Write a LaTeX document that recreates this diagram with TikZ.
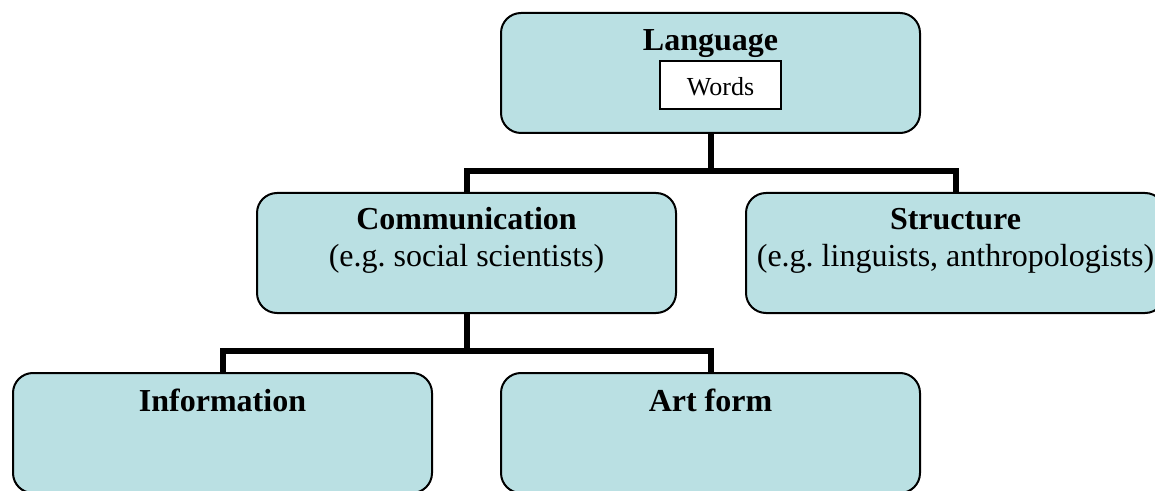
\documentclass[tikz,border=0pt]{standalone}
\usepackage{fontspec}
\setmainfont{Liberation Serif}
\usetikzlibrary{calc}
\frenchspacing
\definecolor{boxfill}{HTML}{BAE0E3}
\tikzset{
  topic/.style={draw, line width=1.5pt, fill=boxfill, rounded corners=15pt,
    minimum width=314.25pt, minimum height=90pt, inner sep=0pt},
  headline/.style={font=\fontsize{24}{28}\selectfont\bfseries, anchor=base, inner sep=0pt},
  subline/.style={font=\fontsize{24}{28}\selectfont, anchor=base, inner sep=0pt},
  wordbox/.style={draw, line width=1.3pt, fill=white, minimum width=90.75pt, minimum height=36pt,
    inner sep=0pt, text height=16.5pt, text depth=0pt, font=\fontsize{19.5}{22}\selectfont},
  branch/.style={line width=4.5pt},
}

\begin{document}
\begin{tikzpicture}[x=0.75pt, y=-0.75pt]
    \useasboundingbox (0,0) rectangle (1155,491);
    \clip (0,0) rectangle (1155,491);
    % boxes
    \node[topic] (lang) at (710.5,73) {};
    \node[topic] (comm) at (466.5,253) {};
    \node[topic] (struct) at (955.5,253) {};
    \node[topic] (info) at (222.5,433) {};
    \node[topic] (art) at (710.5,433) {};
    % texts
    \node[headline] (langT) at ($(lang.north)+(0,39)$) {Language};
    \node[wordbox] (words) at (720.5,85) {Words};
    \node[headline] (commT) at ($(comm.north)+(0,38)$) {Communication};
    \node[subline] (commS) at ($(comm.north)+(0,75)$) {(e.g. social scientists)};
    \node[headline] (structT) at ($(struct.north)+(0,38)$) {Structure};
    \node[subline] (structS) at ($(struct.north)+(0,75)$) {(e.g. linguists, anthropologists)};
    \node[headline] (infoT) at ($(info.north)+(0,39)$) {Information};
    \node[headline] (artT) at ($(art.north)+(0,39)$) {Art form};
    % connectors
    \coordinate (upfork) at ($(lang.south)+(0,37)$);
    \coordinate (lowfork) at ($(comm.south)+(0,37)$);
    \draw[branch] (lang.south) -- (upfork);
    \draw[branch] (comm.north) |- (upfork) -| (struct.north);
    \draw[branch] (comm.south) -- (lowfork);
    \draw[branch] (info.north) |- (lowfork) -| (art.north);
\end{tikzpicture}
\end{document}
